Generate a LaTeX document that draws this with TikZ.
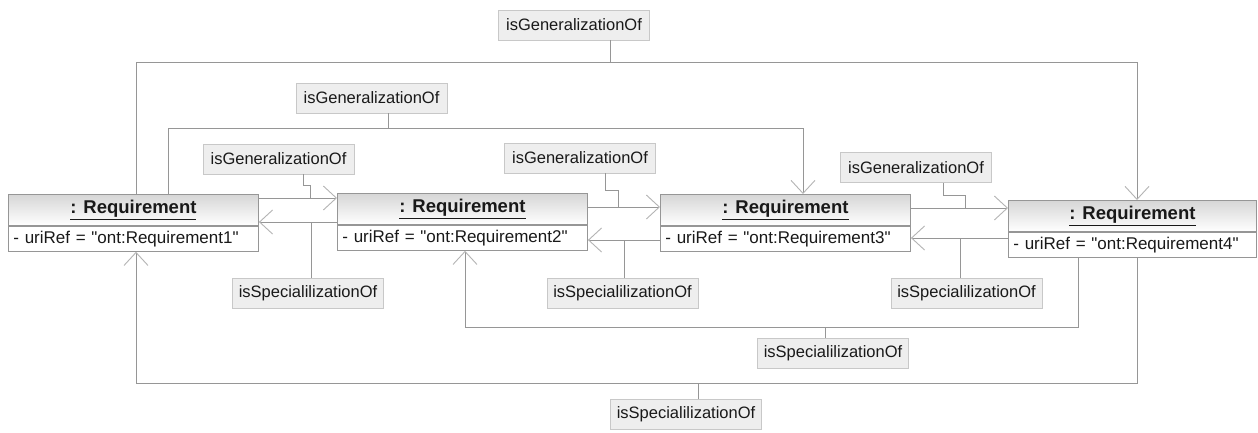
\documentclass[tikz,border=0pt]{standalone}
\usepackage{fontspec}
\setmainfont{Liberation Sans}[Ligatures=TeXOff]
\usetikzlibrary{arrows.meta}
\definecolor{linegray}{RGB}{150,150,150}
\definecolor{tipgray}{RGB}{180,180,180}
\definecolor{lblfill}{RGB}{238,238,238}
\definecolor{lbldraw}{RGB}{200,200,200}
\definecolor{boxdraw}{RGB}{150,150,150}
\definecolor{txt}{RGB}{25,25,25}

\begin{document}
\begin{tikzpicture}[x=1pt,y=-1pt,
  conn/.style={draw=linegray, line width=0.9pt},
  assoc/.style={conn, -{Straight Barb[length=13pt,width=24pt,line width=0.9pt,color=tipgray]}},
  hdr/.style={draw=boxdraw, line width=0.9pt, top color=black!16, bottom color=white,
    minimum width=250pt, minimum height=31pt, inner sep=0pt, anchor=north west,
    font=\fontsize{18.5}{20}\selectfont\bfseries, text=txt},
  attr/.style={draw=boxdraw, line width=0.9pt, fill=white, minimum height=25pt,
    text width=240pt, align=left, inner xsep=5pt, inner ysep=0pt, anchor=north west,
    font=\fontsize{17}{19}\selectfont, text=txt},
  lbl/.style={draw=lbldraw, fill=lblfill, line width=0.8pt, minimum width=151pt,
    minimum height=30pt, inner sep=0pt, font=\fontsize{16.5}{18}\selectfont, text=txt}
]
\useasboundingbox (0,0) rectangle (1258,432);
\fill[white] (0,0) rectangle (1258,432);

% the four requirement objects
\node[hdr] (r1h) at (8,194) {\underline{: Requirement}};
\node[attr] (r1a) at (r1h.south west) {- uriRef = "ont:Requirement1"};
\node[hdr] (r2h) at (337,193) {\underline{: Requirement}};
\node[attr] (r2a) at (r2h.south west) {- uriRef = "ont:Requirement2"};
\node[hdr] (r3h) at (660,194) {\underline{: Requirement}};
\node[attr] (r3a) at (r3h.south west) {- uriRef = "ont:Requirement3"};
\node[hdr, minimum width=248pt] (r4h) at (1008,200) {\underline{: Requirement}};
\node[attr, text width=238pt] (r4a) at (r4h.south west) {- uriRef = "ont:Requirement4"};

% association labels
\node[lbl] (lg1) at (574,25) {isGeneralizationOf};
\node[lbl] (lg2) at (371.5,98) {isGeneralizationOf};
\node[lbl] (lg3) at (278.5,159) {isGeneralizationOf};
\node[lbl] (lg4) at (580,158) {isGeneralizationOf};
\node[lbl] (lg5) at (916,167.5) {isGeneralizationOf};
\node[lbl] (ls1) at (308,293) {isSpecialilizationOf};
\node[lbl] (ls2) at (622.5,293) {isSpecialilizationOf};
\node[lbl] (ls3) at (966.5,293) {isSpecialilizationOf};
\node[lbl] (ls4) at (833,353) {isSpecialilizationOf};
\node[lbl] (ls5) at (686,414.5) {isSpecialilizationOf};

% bend and attachment points
\coordinate (g1a) at (136,62);   \coordinate (g1b) at (1137,62);
\coordinate (g2a) at (168,128);  \coordinate (g2b) at (803,128);
\coordinate (s1a) at (1137,383); \coordinate (s1b) at (136,383);
\coordinate (s2a) at (1078,327); \coordinate (s2b) at (465,327);
\coordinate (y12) at (0,198);    \coordinate (y21) at (0,222);
\coordinate (y23) at (0,207);    \coordinate (y32) at (0,240);
\coordinate (y34) at (0,208);    \coordinate (y43) at (0,238);

% long generalization links over the top
\draw[assoc] (r1h.north -| g1a) -- (g1a) -- (g1b) -- (r4h.north -| g1b);
\draw[assoc] (r1h.north -| g2a) -- (g2a) -- (g2b) -- (r3h.north -| g2b);

% long specialization links underneath
\draw[assoc] (r4a.south -| s1a) -- (s1a) -- (s1b) -- (r1a.south -| s1b);
\draw[assoc] (r4a.south -| s2a) -- (s2a) -- (s2b) -- (r2a.south -| s2b);

% neighbour links
\draw[assoc] (r1h.east |- y12) -- (r2h.west |- y12);
\draw[assoc] (r2h.west |- y21) -- (r1h.east |- y21);
\draw[assoc] (r2h.east |- y23) -- (r3h.west |- y23);
\draw[assoc] (r3h.west |- y32) -- (r2h.east |- y32);
\draw[assoc] (r3h.east |- y34) -- (r4h.west |- y34);
\draw[assoc] (r4h.west |- y43) -- (r3h.east |- y43);

% label stubs
\coordinate (t1) at (610,62);   \draw[conn] (lg1.south -| t1) -- (t1);
\coordinate (t2) at (388,128);  \draw[conn] (lg2.south -| t2) -- (t2);
\coordinate (j3) at (303,185);  \coordinate (k3) at (310,198);
\draw[conn] (lg3.south -| j3) -- (j3) -| (k3);
\coordinate (j4) at (605,190);  \coordinate (k4) at (618,207);
\draw[conn] (lg4.south -| j4) -- (j4) -| (k4);
\coordinate (j5) at (943,195);  \coordinate (k5) at (965,208);
\draw[conn] (lg5.south -| j5) -- (j5) -| (k5);
\coordinate (u1) at (311,222);  \draw[conn] (ls1.north -| u1) -- (u1);
\coordinate (u2) at (624,240);  \draw[conn] (ls2.north -| u2) -- (u2);
\coordinate (u3) at (960,238);  \draw[conn] (ls3.north -| u3) -- (u3);
\coordinate (u4) at (825,327);  \draw[conn] (ls4.north -| u4) -- (u4);
\coordinate (u5) at (698,383);  \draw[conn] (ls5.north -| u5) -- (u5);
\end{tikzpicture}
\end{document}
